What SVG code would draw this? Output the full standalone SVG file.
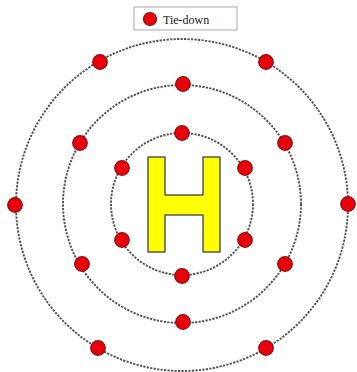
<svg xmlns="http://www.w3.org/2000/svg" width="357" height="372" viewBox="0 0 357 372">
<style>
.ring{fill:none;stroke:#505050;stroke-width:1.9;stroke-dasharray:2.2 1.3}
.dot{fill:#e8000a;stroke:#8a1010;stroke-width:1.2}
.lbl{font-family:"Liberation Serif",serif;font-size:12px;fill:#222}
</style>
<defs><circle id="d" r="7.3" class="dot"/></defs>
<rect width="357" height="372" fill="#fff"/>
<g id="legend">
<rect x="134" y="7" width="103" height="23" fill="#fff" stroke="#aaa" stroke-width="1"/>
<circle cx="150" cy="19" r="6.5" class="dot"/>
<text x="163" y="23.5" class="lbl">Tie-down</text>
</g>
<g id="rings">
<circle cx="182" cy="205" r="166" class="ring"/>
<circle cx="182" cy="204" r="119" class="ring"/>
<circle cx="182" cy="204" r="71" class="ring"/>
</g>
<g id="helipad">
<path d="M148,157 H165 V195 H203 V157 H220 V252 H203 V215 H165 V252 H148 Z" fill="#ffff00" stroke="#555" stroke-width="1.5" stroke-linejoin="round"/>
</g>
<g id="outer-dots">
<use href="#d" x="100" y="62"/>
<use href="#d" x="266" y="62"/>
<use href="#d" x="15" y="205"/>
<use href="#d" x="348" y="204"/>
<use href="#d" x="98" y="348"/>
<use href="#d" x="266" y="348"/>
</g>
<g id="middle-dots">
<use href="#d" x="183" y="84"/>
<use href="#d" x="80" y="143"/>
<use href="#d" x="285" y="143"/>
<use href="#d" x="82" y="264"/>
<use href="#d" x="285" y="264"/>
<use href="#d" x="183" y="322"/>
</g>
<g id="inner-dots">
<use href="#d" x="182" y="133"/>
<use href="#d" x="122" y="168"/>
<use href="#d" x="245" y="168"/>
<use href="#d" x="122" y="240"/>
<use href="#d" x="245" y="240"/>
<use href="#d" x="182" y="276"/>
</g>
</svg>
